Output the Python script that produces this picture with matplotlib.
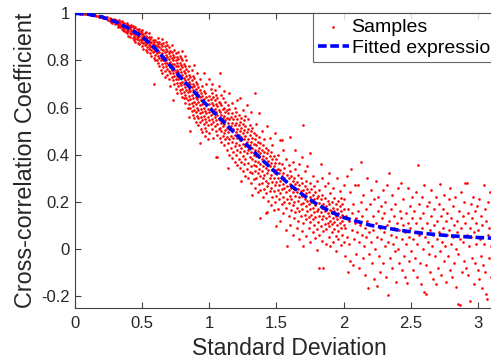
import numpy as np
import matplotlib
matplotlib.use("Agg")
import matplotlib.pyplot as plt

plt.rcParams['font.family'] = ['Liberation Sans', 'DejaVu Sans']

# fitted curve
fit_x = [0, 0.1, 0.2, 0.3, 0.4, 0.5, 0.6, 0.7, 0.8, 0.9, 1.0, 1.1, 1.2, 1.3, 1.4,
         1.5, 1.6, 1.7, 1.8, 1.9, 2.0, 2.2, 2.4, 2.6, 2.8, 3.0, 3.15]
fit_y = [1.0, 0.996, 0.985, 0.965, 0.937, 0.902, 0.85, 0.785, 0.72, 0.66, 0.60, 0.543,
         0.486, 0.43, 0.375, 0.322, 0.272, 0.228, 0.19, 0.158, 0.133, 0.10, 0.08,
         0.065, 0.055, 0.048, 0.044]

# samples, one row per x: (x, y, y, ...)
samples_head = [
    (0.02, 1.0), (0.04, 0.999), (0.06, 0.999), (0.08, 0.998), (0.09, 0.996),
    (0.11, 0.996), (0.12, 0.994), (0.13, 0.993), (0.14, 0.991), (0.15, 0.992),
    (0.16, 0.989), (0.17, 0.988), (0.18, 0.986), (0.19, 0.984), (0.20, 0.987),
    (0.21, 0.982), (0.22, 0.978, 0.985), (0.23, 0.980), (0.24, 0.975, 0.983),
    (0.25, 0.972), (0.26, 0.978, 0.968), (0.27, 0.974, 0.962), (0.28, 0.970, 0.958),
    (0.29, 0.966, 0.975), (0.30, 0.955, 0.970),
]

samples_band = [
    (0.31, 0.958, 0.972), (0.32, 0.950, 0.965, 0.943), (0.33, 0.960, 0.948, 0.970),
    (0.34, 0.940, 0.955, 0.962), (0.35, 0.935, 0.950, 0.966, 0.945),
    (0.36, 0.942, 0.928, 0.958), (0.37, 0.948, 0.935, 0.925, 0.960),
    (0.38, 0.920, 0.940, 0.952), (0.39, 0.930, 0.915, 0.945, 0.958),
    (0.40, 0.925, 0.938, 0.905, 0.950), (0.41, 0.918, 0.932, 0.945, 0.900),
    (0.42, 0.925, 0.910, 0.940, 0.952), (0.43, 0.895, 0.915, 0.930, 0.945),
    (0.44, 0.905, 0.920, 0.888, 0.938), (0.45, 0.912, 0.925, 0.895, 0.940, 0.880),
    (0.46, 0.905, 0.918, 0.935, 0.890), (0.47, 0.875, 0.898, 0.912, 0.928),
    (0.48, 0.885, 0.905, 0.920, 0.868, 0.935), (0.49, 0.892, 0.910, 0.878, 0.925),
    (0.50, 0.860, 0.885, 0.900, 0.915, 0.930), (0.51, 0.872, 0.895, 0.908, 0.850),
    (0.52, 0.880, 0.865, 0.898, 0.915), (0.53, 0.845, 0.870, 0.888, 0.905, 0.922),
    (0.54, 0.858, 0.878, 0.895, 0.835), (0.55, 0.865, 0.882, 0.848, 0.900, 0.915),
    (0.56, 0.830, 0.855, 0.872, 0.890), (0.57, 0.845, 0.862, 0.880, 0.820, 0.898),
    (0.58, 0.835, 0.852, 0.870, 0.888), (0.59, 0.810, 0.842, 0.860, 0.878, 0.700),
    (0.60, 0.825, 0.848, 0.865, 0.800, 0.885),
]

samples_knee = [
    (0.61, 0.80, 0.83, 0.86, 0.88, 0.845), (0.62, 0.79, 0.82, 0.84, 0.87, 0.895),
    (0.63, 0.775, 0.81, 0.835, 0.855, 0.88), (0.64, 0.80, 0.825, 0.85, 0.87, 0.76),
    (0.65, 0.785, 0.81, 0.83, 0.86, 0.89, 0.745), (0.66, 0.77, 0.80, 0.82, 0.845, 0.875),
    (0.67, 0.755, 0.79, 0.81, 0.835, 0.86, 0.73), (0.68, 0.775, 0.80, 0.825, 0.85, 0.88),
    (0.69, 0.74, 0.765, 0.79, 0.815, 0.84, 0.865), (0.70, 0.72, 0.755, 0.78, 0.805, 0.83, 0.855),
    (0.71, 0.745, 0.77, 0.795, 0.82, 0.84, 0.69), (0.72, 0.73, 0.76, 0.785, 0.81, 0.835, 0.865),
    (0.73, 0.63, 0.715, 0.745, 0.77, 0.80, 0.825), (0.74, 0.70, 0.735, 0.76, 0.785, 0.815, 0.845),
    (0.75, 0.68, 0.72, 0.75, 0.775, 0.80, 0.83), (0.76, 0.705, 0.735, 0.76, 0.79, 0.815, 0.66),
    (0.77, 0.69, 0.72, 0.75, 0.775, 0.805, 0.835), (0.78, 0.675, 0.705, 0.735, 0.765, 0.79, 0.82),
    (0.79, 0.66, 0.695, 0.725, 0.75, 0.78, 0.81), (0.80, 0.645, 0.68, 0.71, 0.74, 0.77, 0.80, 0.84),
    (0.81, 0.64, 0.665, 0.70, 0.725, 0.755, 0.785), (0.82, 0.62, 0.655, 0.685, 0.715, 0.745, 0.775, 0.82),
    (0.83, 0.64, 0.675, 0.705, 0.735, 0.765, 0.80), (0.84, 0.60, 0.63, 0.665, 0.695, 0.72, 0.755),
    (0.85, 0.615, 0.65, 0.68, 0.71, 0.74, 0.775, 0.56), (0.86, 0.50, 0.60, 0.635, 0.67, 0.70, 0.73),
    (0.87, 0.585, 0.62, 0.655, 0.685, 0.715, 0.76), (0.88, 0.57, 0.605, 0.64, 0.675, 0.70, 0.735),
    (0.89, 0.555, 0.59, 0.625, 0.66, 0.69, 0.725, 0.78), (0.90, 0.54, 0.58, 0.615, 0.645, 0.68, 0.71),
    (0.91, 0.565, 0.60, 0.635, 0.665, 0.70, 0.745), (0.92, 0.525, 0.555, 0.59, 0.625, 0.655, 0.685),
    (0.93, 0.45, 0.54, 0.575, 0.61, 0.645, 0.675, 0.72), (0.94, 0.51, 0.56, 0.595, 0.63, 0.66),
    (0.95, 0.495, 0.545, 0.58, 0.615, 0.65, 0.69), (0.96, 0.53, 0.565, 0.60, 0.635, 0.67, 0.745),
    (0.97, 0.48, 0.515, 0.55, 0.585, 0.62, 0.66), (0.98, 0.50, 0.54, 0.575, 0.61, 0.645, 0.70),
    (0.99, 0.465, 0.525, 0.56, 0.595, 0.63), (1.00, 0.49, 0.545, 0.58, 0.615, 0.65, 0.72),
]

samples_mid = [
    (1.01, 0.53, 0.57, 0.60, 0.635, 0.68), (1.02, 0.51, 0.55, 0.585, 0.62, 0.66, 0.70),
    (1.03, 0.54, 0.575, 0.61, 0.645, 0.47), (1.04, 0.52, 0.56, 0.595, 0.63, 0.675),
    (1.05, 0.39, 0.50, 0.545, 0.58, 0.615, 0.655), (1.06, 0.485, 0.53, 0.57, 0.605, 0.64, 0.39),
    (1.07, 0.51, 0.55, 0.59, 0.625, 0.69), (1.08, 0.47, 0.515, 0.545, 0.58, 0.62, 0.745),
    (1.09, 0.455, 0.50, 0.535, 0.57, 0.61, 0.655), (1.10, 0.48, 0.52, 0.555, 0.595, 0.64),
    (1.11, 0.44, 0.49, 0.53, 0.565, 0.60, 0.67), (1.12, 0.465, 0.505, 0.545, 0.58, 0.625),
    (1.13, 0.42, 0.475, 0.515, 0.555, 0.59), (1.14, 0.343, 0.45, 0.495, 0.535, 0.575, 0.61),
    (1.15, 0.40, 0.465, 0.51, 0.55, 0.595, 0.66), (1.16, 0.43, 0.48, 0.52, 0.56),
    (1.17, 0.385, 0.455, 0.50, 0.535, 0.575, 0.62), (1.18, 0.41, 0.47, 0.51, 0.55),
    (1.19, 0.37, 0.435, 0.485, 0.525, 0.565, 0.60), (1.20, 0.40, 0.45, 0.495, 0.535, 0.58),
    (1.21, 0.355, 0.42, 0.47, 0.51, 0.55, 0.63), (1.22, 0.38, 0.44, 0.485, 0.525, 0.57),
    (1.23, 0.345, 0.41, 0.46, 0.50, 0.54, 0.64), (1.24, 0.286, 0.37, 0.43, 0.475, 0.515, 0.555),
    (1.25, 0.33, 0.395, 0.445, 0.49, 0.53, 0.59), (1.26, 0.36, 0.415, 0.465, 0.505, 0.545),
    (1.27, 0.31, 0.38, 0.435, 0.48, 0.52, 0.565), (1.28, 0.34, 0.405, 0.455, 0.495, 0.61),
    (1.29, 0.30, 0.365, 0.42, 0.465, 0.51, 0.55), (1.30, 0.325, 0.39, 0.44, 0.485, 0.525),
    (1.31, 0.28, 0.35, 0.41, 0.455, 0.50, 0.58), (1.32, 0.23, 0.32, 0.38, 0.43, 0.47, 0.515),
    (1.33, 0.295, 0.355, 0.40, 0.445, 0.49), (1.34, 0.26, 0.33, 0.375, 0.42, 0.465, 0.66),
    (1.35, 0.30, 0.35, 0.395, 0.44, 0.485, 0.53), (1.36, 0.24, 0.32, 0.37, 0.415, 0.455),
    (1.37, 0.275, 0.34, 0.39, 0.43, 0.475, 0.575), (1.38, 0.13, 0.25, 0.31, 0.36, 0.405, 0.45),
    (1.39, 0.28, 0.33, 0.38, 0.42, 0.50), (1.40, 0.22, 0.30, 0.35, 0.395, 0.44),
    (1.41, 0.255, 0.315, 0.37, 0.41, 0.465), (1.42, 0.15, 0.235, 0.29, 0.345, 0.385, 0.43),
    (1.43, 0.155, 0.265, 0.32, 0.36, 0.405, 0.52), (1.44, 0.205, 0.28, 0.335, 0.375, 0.42),
    (1.45, 0.245, 0.30, 0.35, 0.395, 0.47), (1.46, 0.185, 0.26, 0.315, 0.365, 0.41),
    (1.47, 0.22, 0.285, 0.335, 0.38, 0.44), (1.48, 0.165, 0.245, 0.30, 0.35, 0.395),
    (1.49, 0.20, 0.27, 0.32, 0.365, 0.49), (1.50, 0.095, 0.225, 0.285, 0.335, 0.38),
]

samples_fall = [
    (1.51, 0.17, 0.25, 0.30, 0.34, 0.40), (1.52, 0.21, 0.27, 0.32, 0.365),
    (1.53, 0.12, 0.235, 0.29, 0.335, 0.46), (1.54, 0.19, 0.255, 0.31, 0.36, 0.46),
    (1.55, 0.15, 0.22, 0.275, 0.32, 0.42), (1.56, 0.20, 0.26, 0.30, 0.345),
    (1.57, 0.08, 0.175, 0.24, 0.29, 0.38), (1.58, 0.01, 0.21, 0.265, 0.315),
    (1.59, 0.14, 0.195, 0.25, 0.30, 0.355), (1.60, 0.10, 0.225, 0.275, 0.33, 0.476),
    (1.61, 0.165, 0.21, 0.26, 0.31), (1.62, 0.06, 0.185, 0.24, 0.29, 0.37),
    (1.63, 0.13, 0.20, 0.255, 0.30), (1.64, 0.155, 0.225, 0.275, 0.34, 0.42),
    (1.65, 0.09, 0.175, 0.24, 0.285), (1.66, 0.12, 0.205, 0.255, 0.315),
    (1.67, 0.04, 0.16, 0.22, 0.27, 0.36), (1.68, 0.14, 0.19, 0.245, 0.30),
    (1.69, 0.075, 0.17, 0.225, 0.28, 0.39), (1.70, 0.01, 0.11, 0.195, 0.25, 0.525),
    (1.71, 0.145, 0.21, 0.265, 0.33), (1.72, 0.055, 0.125, 0.18, 0.235, 0.29),
    (1.73, 0.16, 0.205, 0.255, 0.35), (1.74, 0.09, 0.135, 0.19, 0.24),
    (1.75, 0.03, 0.115, 0.17, 0.22, 0.28, 0.405), (1.76, 0.145, 0.20, 0.255),
    (1.77, 0.07, 0.125, 0.175, 0.23, 0.31), (1.78, 0.10, 0.155, 0.21, 0.265),
    (1.79, 0.045, 0.135, 0.185, 0.24), (1.80, -0.003, 0.085, 0.16, 0.215, 0.29),
    (1.81, 0.115, 0.17, 0.225), (1.82, -0.08, 0.06, 0.14, 0.195, 0.25),
    (1.83, 0.095, 0.155, 0.21, 0.36), (1.84, 0.035, 0.125, 0.175, 0.23, 0.30),
    (1.85, -0.08, 0.075, 0.14, 0.19), (1.86, 0.105, 0.16, 0.215, 0.265),
    (1.87, 0.02, 0.085, 0.13, 0.18), (1.88, 0.11, 0.15, 0.205, 0.28),
    (1.89, 0.05, 0.095, 0.14, 0.19, 0.32), (1.90, 0.01, 0.12, 0.165, 0.235),
    (1.91, 0.07, 0.105, 0.15, 0.20), (1.92, 0.03, 0.13, 0.175, 0.26),
    (1.93, 0.085, 0.115, 0.16, 0.215), (1.94, -0.01, 0.055, 0.14, 0.19),
    (1.95, 0.10, 0.125, 0.17, 0.30), (1.96, 0.04, 0.075, 0.15, 0.205),
    (1.97, 0.11, 0.135, 0.18, 0.245), (1.98, 0.015, 0.09, 0.16, 0.215),
    (1.99, 0.06, 0.12, 0.145, 0.19), (2.00, 0.03, 0.10, 0.17, 0.27),
]

# sparse tail, one (x, y) pair per sample
samples_tail = [
    (2.004, 0.21), (2.008, -0.03), (2.013, 0.09), (2.017, 0.14), (2.022, 0.31), (2.026, 0.05),
    (2.031, -0.10), (2.034, 0.17), (2.039, 0.02), (2.043, 0.12), (2.048, 0.24), (2.051, -0.05),
    (2.056, 0.34), (2.061, 0.08), (2.064, 0.15), (2.069, 0.19), (2.073, -0.07), (2.078, 0.04),
    (2.082, 0.11), (2.086, 0.27), (2.091, 0.13), (2.095, -0.02), (2.099, 0.07), (2.104, 0.16),
    (2.108, 0.27), (2.112, 0.03), (2.117, -0.08), (2.121, 0.10), (2.126, 0.20), (2.129, 0.37),
    (2.133, 0.06), (2.138, 0.14), (2.142, -0.04), (2.147, 0.23), (2.151, 0.01), (2.156, 0.09),
    (2.160, -0.11), (2.164, 0.17), (2.169, 0.05), (2.172, 0.30), (2.177, 0.12), (2.181, -0.165),
    (2.186, 0.07), (2.190, -0.02), (2.194, 0.19), (2.199, 0.10), (2.203, 0.03), (2.207, 0.25),
    (2.212, -0.06), (2.216, 0.14), (2.221, 0.08), (2.225, -0.13), (2.229, 0.21), (2.233, 0.00),
    (2.238, 0.11), (2.242, 0.29), (2.247, -0.158), (2.251, 0.05), (2.255, 0.16), (2.259, 0.22),
    (2.264, -0.03), (2.268, 0.09), (2.272, -0.10), (2.277, 0.18), (2.281, 0.04), (2.285, 0.13),
    (2.290, 0.25), (2.294, -0.06), (2.298, 0.07), (2.303, 0.15), (2.307, 0.01), (2.311, 0.20),
    (2.316, -0.12), (2.320, 0.10), (2.324, 0.27), (2.329, 0.03), (2.333, -0.197), (2.336, 0.32),
    (2.341, 0.12), (2.345, -0.04), (2.349, 0.17), (2.354, 0.06), (2.358, 0.23), (2.362, -0.08),
    (2.367, 0.02), (2.371, 0.14), (2.375, 0.09), (2.380, -0.01), (2.384, 0.19), (2.388, 0.05),
    (2.393, -0.14), (2.397, 0.11), (2.401, 0.26), (2.406, 0.00), (2.410, 0.08), (2.414, -0.06),
    (2.419, 0.16), (2.423, 0.13), (2.428, 0.28), (2.432, -0.09), (2.436, 0.04), (2.441, 0.10),
    (2.445, 0.21), (2.449, -0.03), (2.454, 0.07), (2.458, -0.12), (2.462, 0.15), (2.467, 0.02),
    (2.471, -0.147), (2.475, 0.26), (2.480, 0.11), (2.484, 0.05), (2.488, -0.05), (2.493, 0.18),
    (2.497, 0.09), (2.502, -0.01), (2.506, 0.13), (2.510, 0.22), (2.515, -0.09), (2.519, 0.04),
    (2.523, 0.16), (2.528, 0.07), (2.532, -0.04), (2.536, 0.24), (2.541, 0.11), (2.545, -0.12),
    (2.549, 0.02), (2.553, 0.356), (2.558, 0.06), (2.562, 0.19), (2.567, -0.06), (2.571, 0.13),
    (2.575, -0.15), (2.580, 0.09), (2.584, 0.22), (2.588, 0.00), (2.593, 0.15), (2.597, 0.27),
    (2.601, -0.185), (2.606, 0.05), (2.610, -0.07), (2.614, -0.193), (2.618, 0.11), (2.623, 0.18),
    (2.627, 0.03), (2.632, -0.02), (2.636, 0.20), (2.640, 0.08), (2.645, -0.10), (2.649, 0.14),
    (2.653, 0.25), (2.658, 0.01), (2.662, 0.06), (2.666, -0.13), (2.671, 0.17), (2.675, 0.10),
    (2.679, -0.03), (2.684, -0.15), (2.688, 0.22), (2.692, 0.04), (2.697, 0.12), (2.701, -0.08),
    (2.706, 0.19), (2.710, 0.07), (2.714, -0.01), (2.719, 0.276), (2.723, 0.14), (2.727, -0.11),
    (2.732, 0.03), (2.736, 0.17), (2.740, 0.09), (2.745, -0.05), (2.749, 0.23), (2.754, 0.01),
    (2.758, -0.14), (2.762, 0.12), (2.767, 0.06), (2.771, 0.15), (2.775, -0.03), (2.780, 0.21),
    (2.784, 0.08), (2.788, -0.09), (2.793, 0.26), (2.797, 0.02), (2.801, 0.13), (2.806, -0.12),
    (2.810, 0.05), (2.814, 0.18), (2.819, 0.10), (2.823, -0.06), (2.828, 0.22), (2.832, 0.00),
    (2.836, -0.16), (2.841, 0.12), (2.845, 0.07), (2.849, -0.02), (2.853, -0.235), (2.858, 0.16),
    (2.862, 0.04), (2.866, -0.24), (2.871, 0.24), (2.875, 0.09), (2.880, -0.10), (2.884, 0.14),
    (2.888, 0.03), (2.893, 0.20), (2.897, -0.05), (2.901, 0.11), (2.906, 0.28), (2.910, -0.08),
    (2.914, 0.06), (2.919, 0.28), (2.923, 0.15), (2.927, -0.11), (2.932, 0.01), (2.936, 0.09),
    (2.941, -0.22), (2.945, 0.19), (2.949, 0.05), (2.954, -0.04), (2.958, 0.13), (2.962, 0.22),
    (2.967, -0.15), (2.971, 0.07), (2.975, 0.16), (2.980, -0.06), (2.984, 0.02), (2.988, 0.11),
    (2.993, 0.18), (2.997, -0.09), (3.002, 0.08), (3.006, -0.13), (3.010, 0.21), (3.015, 0.04),
    (3.019, -0.03), (3.023, 0.14), (3.028, 0.10), (3.032, -0.165), (3.036, -0.07), (3.041, 0.27),
    (3.045, 0.02), (3.049, 0.17), (3.054, -0.10), (3.058, 0.12), (3.062, -0.19), (3.067, -0.214),
    (3.071, 0.06), (3.075, 0.20), (3.080, -0.04), (3.084, 0.09), (3.088, 0.24), (3.093, 0.01),
    (3.097, -0.12), (3.101, 0.15), (3.106, 0.05), (3.110, -0.06), (3.114, 0.11), (3.119, 0.19),
    (3.123, -0.15), (3.127, 0.08),
]

x_ticks = [0, 0.5, 1, 1.5, 2, 2.5, 3]
y_ticks = [-0.2, 0, 0.2, 0.4, 0.6, 0.8, 1]

sx, sy = [], []
for seg in (samples_head, samples_band, samples_knee, samples_mid, samples_fall, samples_tail):
    for row in seg:
        for v in row[1:]:
            sx.append(row[0])
            sy.append(v)

fig = plt.figure(figsize=(4.91, 3.63), dpi=100)
ax = fig.add_axes([74.7 / 491, 55.3 / 363, (505 - 74.7) / 491, 294.4 / 363])

ax.scatter(sx, sy, s=3.6, c='#ff0000', marker='o', linewidths=0, label='Samples', zorder=2)
ax.plot(fit_x, fit_y, color='#0000ff', lw=2.6, ls=(0, (2.4, 1.0)),
        label='Fitted expression', zorder=3)

ax.set_xlim(0, 3.2)
ax.set_ylim(-0.25, 1)
ax.set_xticks(x_ticks)
ax.set_yticks(y_ticks)
ax.set_xticklabels(['%g' % t for t in x_ticks])
ax.set_yticklabels(['%g' % t for t in y_ticks])

grey = '#262626'
for sp in ax.spines.values():
    sp.set_color('#404040')
    sp.set_linewidth(0.8)
ax.tick_params(direction='in', length=4, width=0.8, colors='#404040',
               labelcolor=grey, labelsize=12, top=True, right=True)
ax.tick_params(axis='x', pad=6)
ax.set_xlabel('Standard Deviation', fontsize=16.5, color=grey, labelpad=4)
ax.set_ylabel('Cross-correlation Coefficient', fontsize=16.8, color=grey, labelpad=3)

# the legend runs past the right edge, as in the cropped original
leg = ax.legend(loc='upper left', bbox_to_anchor=(0.553, 1.0), borderaxespad=0,
                fontsize=14, frameon=True, fancybox=False, handlelength=1.6,
                handletextpad=0.15, borderpad=0.25, labelspacing=0.2, markerscale=1.0)
leg.get_frame().set_edgecolor('#404040')
leg.get_frame().set_linewidth(0.8)

fig.savefig('out.png', dpi=100)
